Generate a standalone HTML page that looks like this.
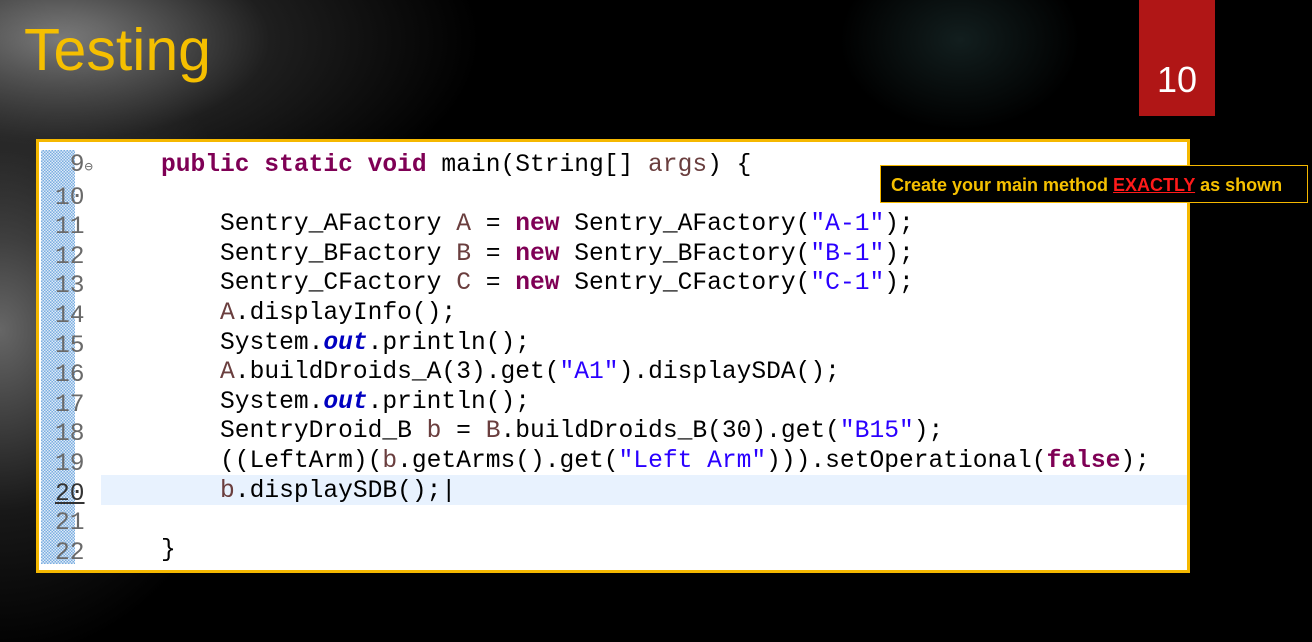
<!DOCTYPE html>
<html><head><style>
body{margin:0;width:1312px;height:642px;overflow:hidden;background:#000;position:relative;font-family:"Liberation Sans",sans-serif}
.bg{position:absolute;inset:0;background:
radial-gradient(ellipse 260px 330px at 0px 330px,rgba(120,120,120,.85),rgba(60,60,60,.4) 55%,rgba(0,0,0,0) 100%),
radial-gradient(ellipse 420px 200px at 60px 40px,rgba(140,140,140,.9),rgba(60,60,60,.5) 50%,rgba(0,0,0,0) 100%),
radial-gradient(ellipse 120px 90px at 960px 40px,rgba(30,50,50,.6),rgba(0,0,0,0) 100%);}
.title{position:absolute;left:24px;top:16px;font-size:59px;color:#f5bf00;font-weight:normal}
.num{position:absolute;left:1139px;top:0;width:76px;height:116px;background:#b01616;color:#fff;font-size:36px;text-align:center;line-height:40px;padding-top:60px;box-sizing:border-box}
.box{position:absolute;left:36px;top:139px;width:1148px;height:428px;background:#fff;border:3px solid #f5b800}
.gut{position:absolute;left:2px;top:8px;width:34px;height:414px;background:repeating-conic-gradient(#7aaee0 0 25%,#dfeaf7 0 50%) 0 0/3px 3px}
.hl{position:absolute;left:62px;top:333px;width:1086px;height:30px;background:#e8f2fe}
.ln{position:absolute;left:16px;font:24.6px "Liberation Mono",monospace;color:#6a6a6a;line-height:30px}
.code{position:absolute;left:122px;font:24.6px "Liberation Mono",monospace;color:#000;line-height:30px;white-space:pre}
.k{color:#7f0055;font-weight:bold}.s{color:#2a00ff}.f{color:#0000c0;font-weight:bold;font-style:italic}.v{color:#6a3e3e}
.tip{position:absolute;left:880px;top:165px;width:428px;height:38px;background:#000;border:1px solid #f5b800;color:#f5c000;font-weight:bold;font-size:18px;line-height:38px;padding-left:10px;box-sizing:border-box;white-space:nowrap}
.tip u{color:#ff1a1a;text-decoration-color:#ff1a1a}
</style></head><body>
<div class="bg"></div>
<div class="title">Testing</div>
<div class="num">10</div>
<div class="box">
<div class="gut"></div>
<div class="hl"></div>
<div class="ln" style="top:9px;line-height:29.6px">&nbsp;9<span style="font-size:14px">⊖</span><br>10<br>11<br>12<br>13<br>14<br>15<br>16<br>17<br>18<br>19<br><span style="color:#333;text-decoration:underline">20</span><br>21<br>22</div>
<div class="code" style="top:9px;line-height:29.6px"><span class="k">public static void</span> main(String[] <span class="v">args</span>) {

    Sentry_AFactory <span class="v">A</span> = <span class="k">new</span> Sentry_AFactory(<span class="s">"A-1"</span>);
    Sentry_BFactory <span class="v">B</span> = <span class="k">new</span> Sentry_BFactory(<span class="s">"B-1"</span>);
    Sentry_CFactory <span class="v">C</span> = <span class="k">new</span> Sentry_CFactory(<span class="s">"C-1"</span>);
    <span class="v">A</span>.displayInfo();
    System.<span class="f">out</span>.println();
    <span class="v">A</span>.buildDroids_A(3).get(<span class="s">"A1"</span>).displaySDA();
    System.<span class="f">out</span>.println();
    SentryDroid_B <span class="v">b</span> = <span class="v">B</span>.buildDroids_B(30).get(<span class="s">"B15"</span>);
    ((LeftArm)(<span class="v">b</span>.getArms().get(<span class="s">"Left Arm"</span>))).setOperational(<span class="k">false</span>);
    <span class="v">b</span>.displaySDB();|

}</div>
</div>
<div class="tip">Create your main method <u>EXACTLY</u> as shown</div>
</body></html>
